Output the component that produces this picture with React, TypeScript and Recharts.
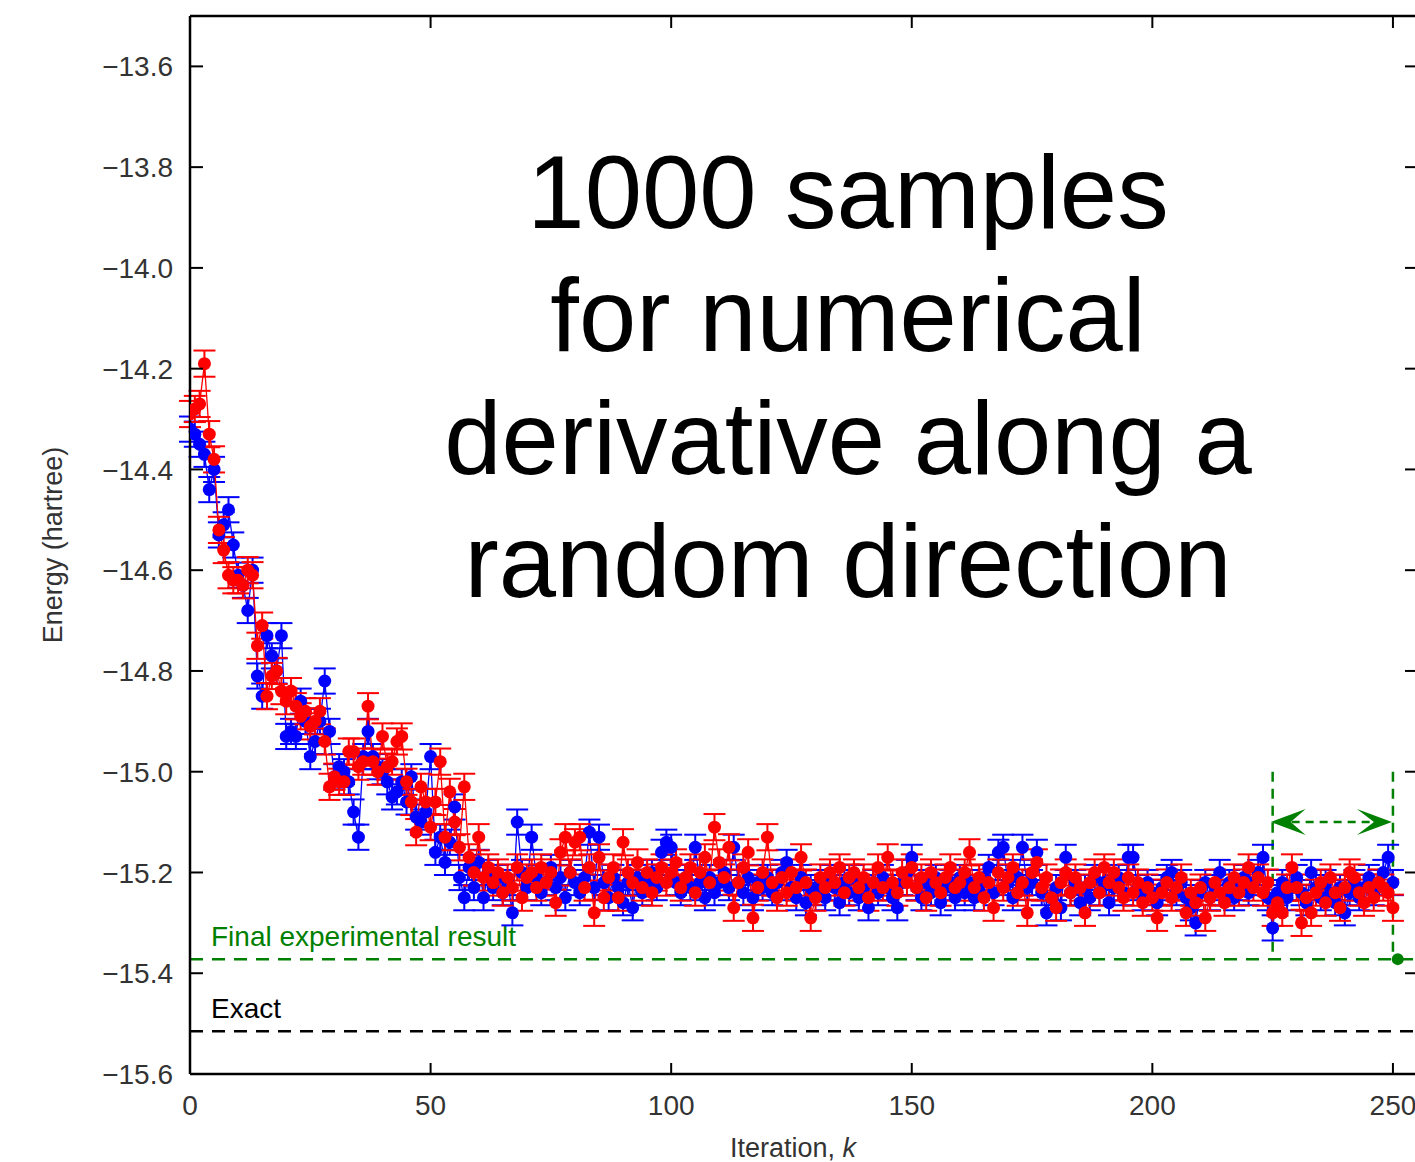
import { ComposedChart, ErrorBar, Line, ReferenceDot, ReferenceLine, XAxis, YAxis } from "recharts";

// energy per iteration (one point per iteration k = 0..250)
const BLUE = [
  -14.32, -14.33, -14.35, -14.37, -14.44, -14.40, -14.53, -14.51, -14.48, -14.55,
  -14.61, -14.63, -14.68, -14.60, -14.81, -14.85, -14.73, -14.77, -14.80, -14.73,
  -14.93, -14.92, -14.93, -14.86, -14.90, -14.97, -14.94, -14.90, -14.82, -14.92,
  -15.01, -14.99, -15.00, -15.02, -15.08, -15.13, -14.97, -14.92, -14.97, -14.99,
  -15.00, -15.02, -15.05, -15.04, -15.02, -15.06, -15.01, -15.09, -15.10, -15.08,
  -14.97, -15.16, -15.13, -15.18, -15.14, -15.07, -15.21, -15.25, -15.19, -15.23,
  -15.18, -15.25, -15.20, -15.23, -15.21, -15.24, -15.22, -15.28, -15.10, -15.20,
  -15.23, -15.13, -15.21, -15.24, -15.22, -15.19, -15.23, -15.21, -15.25, -15.20,
  -15.22, -15.24, -15.21, -15.12, -15.23, -15.13, -15.22, -15.25, -15.21, -15.23,
  -15.26, -15.22, -15.27, -15.21, -15.24, -15.22, -15.20, -15.23, -15.16, -15.14,
  -15.15, -15.22, -15.24, -15.21, -15.23, -15.15, -15.22, -15.25, -15.21, -15.24,
  -15.22, -15.20, -15.23, -15.15, -15.22, -15.24, -15.21, -15.25, -15.22, -15.23,
  -15.21, -15.24, -15.22, -15.20, -15.18, -15.23, -15.25, -15.21, -15.26, -15.23,
  -15.24, -15.22, -15.25, -15.21, -15.23, -15.26, -15.22, -15.24, -15.21, -15.25,
  -15.23, -15.27, -15.22, -15.24, -15.21, -15.23, -15.25, -15.27, -15.22, -15.20,
  -15.17, -15.23, -15.25, -15.22, -15.24, -15.21, -15.26, -15.23, -15.22, -15.25,
  -15.21, -15.24, -15.22, -15.25, -15.23, -15.21, -15.19, -15.24, -15.16, -15.15,
  -15.22, -15.25, -15.21, -15.15, -15.23, -15.22, -15.16, -15.24, -15.28, -15.25,
  -15.23, -15.27, -15.17, -15.24, -15.22, -15.26, -15.23, -15.25, -15.21, -15.24,
  -15.22, -15.26, -15.23, -15.21, -15.24, -15.17, -15.17, -15.23, -15.25, -15.22,
  -15.24, -15.26, -15.23, -15.21, -15.20, -15.24, -15.22, -15.25, -15.27, -15.30,
  -15.24, -15.22, -15.25, -15.23, -15.20, -15.24, -15.22, -15.25, -15.23, -15.21,
  -15.24, -15.22, -15.20, -15.17, -15.25, -15.31, -15.24, -15.22, -15.25, -15.23,
  -15.21, -15.24, -15.26, -15.20, -15.23, -15.25, -15.22, -15.24, -15.26, -15.23,
  -15.28, -15.24, -15.22, -15.25, -15.23, -15.21, -15.24, -15.22, -15.20, -15.17,
  -15.22,
];

const RED = [
  -14.29, -14.28, -14.27, -14.19, -14.33, -14.38, -14.52, -14.56, -14.61, -14.62,
  -14.62, -14.63, -14.60, -14.61, -14.75, -14.71, -14.85, -14.81, -14.80, -14.84,
  -14.86, -14.84, -14.87, -14.89, -14.88, -14.91, -14.90, -14.88, -14.94, -15.03,
  -15.01, -15.02, -15.02, -14.96, -14.96, -14.99, -14.98, -14.87, -14.98, -15.00,
  -14.93, -14.99, -14.98, -14.94, -14.93, -15.02, -15.06, -15.12, -15.03, -15.06,
  -15.11, -15.06, -14.98, -15.13, -15.04, -15.10, -15.15, -15.03, -15.17, -15.20,
  -15.13, -15.21, -15.19, -15.22, -15.20, -15.24, -15.21, -15.23, -15.19, -15.25,
  -15.21, -15.20, -15.23, -15.19, -15.22, -15.20, -15.26, -15.16, -15.13, -15.20,
  -15.14, -15.13, -15.23, -15.19, -15.28, -15.17, -15.25, -15.21, -15.19, -15.25,
  -15.14, -15.20, -15.22, -15.18, -15.23, -15.20, -15.24, -15.21, -15.19, -15.22,
  -15.20, -15.18, -15.23, -15.21, -15.19, -15.24, -15.20, -15.17, -15.22, -15.11,
  -15.18, -15.21, -15.15, -15.27, -15.22, -15.19, -15.16, -15.29, -15.23, -15.20,
  -15.13, -15.22, -15.25, -15.21, -15.24, -15.20, -15.23, -15.17, -15.22, -15.29,
  -15.25, -15.21, -15.23, -15.20, -15.22, -15.19, -15.24, -15.21, -15.20, -15.23,
  -15.21, -15.25, -15.22, -15.19, -15.23, -15.17, -15.22, -15.24, -15.20, -15.22,
  -15.19, -15.23, -15.21, -15.25, -15.20, -15.22, -15.24, -15.21, -15.19, -15.23,
  -15.22, -15.20, -15.16, -15.23, -15.21, -15.25, -15.22, -15.27, -15.20, -15.23,
  -15.21, -15.19, -15.24, -15.22, -15.28, -15.20, -15.18, -15.23, -15.21, -15.25,
  -15.27, -15.22, -15.20, -15.24, -15.21, -15.23, -15.28, -15.22, -15.20, -15.24,
  -15.19, -15.22, -15.20, -15.23, -15.25, -15.21, -15.24, -15.22, -15.26, -15.23,
  -15.25, -15.29, -15.24, -15.22, -15.25, -15.23, -15.21, -15.28, -15.24, -15.26,
  -15.23, -15.29, -15.25, -15.22, -15.24, -15.26, -15.23, -15.21, -15.24, -15.22,
  -15.19, -15.23, -15.21, -15.24, -15.22, -15.28, -15.26, -15.28, -15.23, -15.19,
  -15.23, -15.30, -15.25, -15.28, -15.24, -15.22, -15.26, -15.21, -15.24, -15.27,
  -15.23, -15.20, -15.21, -15.24, -15.26, -15.23, -15.25, -15.22, -15.23, -15.24,
  -15.27,
];

const BLUE_ERR = 0.025;
const RED_ERR = 0.026;

const ITER_TICKS = [0, 50, 100, 150, 200, 250];
const ENERGY_TICKS = [-15.6, -15.4, -15.2, -15.0, -14.8, -14.6, -14.4, -14.2, -14.0, -13.8, -13.6];

const FINAL_RESULT = -15.372;
const EXACT = -15.515;
const WINDOW_START = 225;
const WINDOW_END = 250;
const WINDOW_TOP = -15.0;
const ARROW_Y = -15.1;
const FINAL_POINT_K = 251;

const ANNOTATION = ["1000 samples", "for numerical", "derivative along a", "random direction"];

const FONT = '"Liberation Sans", Arial, sans-serif';
const GREEN = "#008000";

const rows = BLUE.map((blue, k) => ({ k, blue, red: RED[k], blueErr: BLUE_ERR, redErr: RED_ERR }));

const fmtEnergy = (v: number) => v.toFixed(1).replace("-", "\u2212");

const LeftTick = ({ x, y, payload }: any) => (
  <g>
    <line x1={x} x2={x + 13} y1={y} y2={y} stroke="#000" strokeWidth={2} />
    <text x={x - 17} y={y} dy="0.36em" textAnchor="end" fontSize={28} fill="#333" fontFamily={FONT}>
      {fmtEnergy(payload.value)}
    </text>
  </g>
);

const BottomTick = ({ x, y, payload }: any) => (
  <g>
    <line x1={x} x2={x} y1={y} y2={y - 11} stroke="#000" strokeWidth={2} />
    <text x={x} y={y + 41} textAnchor="middle" fontSize={28} fill="#333" fontFamily={FONT}>
      {payload.value}
    </text>
  </g>
);

const TopTick = ({ x, y }: any) => <line x1={x} x2={x} y1={y} y2={y + 12} stroke="#000" strokeWidth={2} />;

const RightTick = ({ x, y }: any) => <line x1={x} x2={x - 12} y1={y} y2={y} stroke="#000" strokeWidth={2} />;

const ArrowShape = (props: any) => {
  const { x1, y1, x2 } = props;
  const y = y1;
  return (
    <g>
      <line x1={x1 + 19} x2={x2 - 17} y1={y} y2={y} stroke={GREEN} strokeWidth={2.5} strokeDasharray="8 6" />
      <polygon
        points={`${x1 - 2},${y} ${x1 + 33},${y - 13} ${x1 + 18},${y} ${x1 + 33},${y + 13}`}
        fill={GREEN}
      />
      <polygon
        points={`${x2 - 1},${y} ${x2 - 36},${y - 13} ${x2 - 19},${y} ${x2 - 36},${y + 13}`}
        fill={GREEN}
      />
    </g>
  );
};

const lineLabel = (text: string, color: string) => (p: any) => (
  <text x={p.viewBox.x + 21} y={p.viewBox.y - 13} fontSize={28} fill={color} fontFamily={FONT}>
    {text}
  </text>
);

export default function App() {
  return (
    <div
      style={{
        position: "fixed",
        left: 0,
        top: 0,
        width: 1415,
        height: 1162,
        overflow: "hidden",
        background: "#fff",
      }}
    >
      <ComposedChart width={1440} height={1162} data={rows} margin={{ top: 15, right: 22, bottom: 0, left: 0 }}>
        <XAxis
          dataKey="k"
          type="number"
          domain={[0, 255]}
          allowDataOverflow
          ticks={ITER_TICKS}
          interval={0}
          height={88}
          tickSize={0}
          tickMargin={0}
          tickLine={false}
          tick={BottomTick}
          axisLine={{ stroke: "#000", strokeWidth: 2.5 }}
          label={(p: any) => (
            <text
              x={p.viewBox.x + 603}
              y={p.viewBox.y + 83}
              textAnchor="middle"
              fontSize={27}
              fill="#333"
              fontFamily={FONT}
            >
              Iteration, <tspan fontStyle="italic">k</tspan>
            </text>
          )}
        />
        <XAxis
          xAxisId="top"
          dataKey="k"
          orientation="top"
          type="number"
          domain={[0, 255]}
          allowDataOverflow
          ticks={ITER_TICKS}
          interval={0}
          height={1}
          tickSize={0}
          tickMargin={0}
          tickLine={false}
          tick={TopTick}
          axisLine={{ stroke: "#000", strokeWidth: 2.5 }}
        />
        <YAxis
          type="number"
          domain={[-15.6, -13.5]}
          allowDataOverflow
          ticks={ENERGY_TICKS}
          interval={0}
          width={190}
          tickSize={0}
          tickMargin={0}
          tickLine={false}
          tick={LeftTick}
          axisLine={{ stroke: "#000", strokeWidth: 2.5 }}
          label={(p: any) => {
            const cx = p.viewBox.x + 62;
            const cy = p.viewBox.y + p.viewBox.height / 2;
            return (
              <text
                x={cx}
                y={cy}
                transform={`rotate(-90, ${cx}, ${cy})`}
                textAnchor="middle"
                fontSize={27}
                fill="#333"
                fontFamily={FONT}
              >
                Energy (hartree)
              </text>
            );
          }}
        />
        <YAxis
          yAxisId="right"
          orientation="right"
          type="number"
          domain={[-15.6, -13.5]}
          allowDataOverflow
          ticks={ENERGY_TICKS}
          interval={0}
          width={1}
          tickSize={0}
          tickMargin={0}
          tickLine={false}
          tick={RightTick}
          axisLine={{ stroke: "#000", strokeWidth: 2.5 }}
        />

        <ReferenceLine
          y={FINAL_RESULT}
          stroke={GREEN}
          strokeWidth={2.5}
          strokeDasharray="13 9"
          label={lineLabel("Final experimental result", GREEN)}
        />
        <ReferenceLine
          y={EXACT}
          stroke="#000"
          strokeWidth={2.5}
          strokeDasharray="13 9"
          label={lineLabel("Exact", "#000")}
        />
        <ReferenceLine
          segment={[
            { x: WINDOW_START, y: WINDOW_TOP },
            { x: WINDOW_START, y: FINAL_RESULT },
          ]}
          stroke={GREEN}
          strokeWidth={2.5}
          strokeDasharray="10 7"
        />
        <ReferenceLine
          segment={[
            { x: WINDOW_END, y: WINDOW_TOP },
            { x: WINDOW_END, y: FINAL_RESULT },
          ]}
          stroke={GREEN}
          strokeWidth={2.5}
          strokeDasharray="10 7"
        />
        <ReferenceLine
          segment={[
            { x: WINDOW_START, y: ARROW_Y },
            { x: WINDOW_END, y: ARROW_Y },
          ]}
          stroke={GREEN}
          shape={ArrowShape}
        />

        <Line
          dataKey="blue"
          stroke="#0000ff"
          strokeWidth={1.3}
          dot={{ r: 6.5, fill: "#0000ff", stroke: "none", strokeWidth: 0 }}
          activeDot={false}
          isAnimationActive={false}
        >
          <ErrorBar dataKey="blueErr" width={11} stroke="#0000ff" strokeWidth={2} direction="y" />
        </Line>
        <Line
          dataKey="red"
          stroke="#ff0000"
          strokeWidth={1.3}
          dot={{ r: 6.5, fill: "#ff0000", stroke: "none", strokeWidth: 0 }}
          activeDot={false}
          isAnimationActive={false}
        >
          <ErrorBar dataKey="redErr" width={11} stroke="#ff0000" strokeWidth={2} direction="y" />
        </Line>

        <ReferenceDot x={FINAL_POINT_K} y={FINAL_RESULT} r={6} fill={GREEN} stroke="none" />
      </ComposedChart>

      <div
        style={{
          position: "absolute",
          left: 348,
          top: 131,
          width: 1000,
          textAlign: "center",
          fontFamily: FONT,
          fontSize: 103,
          lineHeight: "123px",
          color: "#000",
        }}
      >
        {ANNOTATION.map((line) => (
          <div key={line}>{line}</div>
        ))}
      </div>
    </div>
  );
}
